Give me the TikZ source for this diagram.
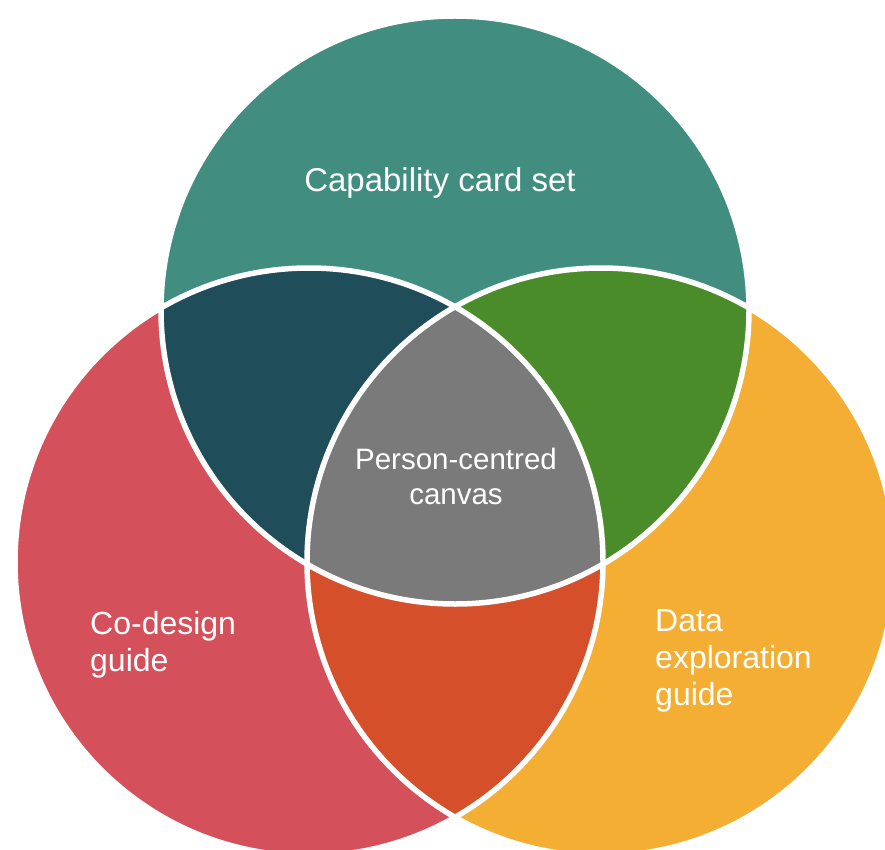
\documentclass[tikz,border=0pt]{standalone}
\usepackage{fontspec}
\setmainfont{Liberation Sans}
\definecolor{cTeal}{HTML}{418E80}
\definecolor{cDark}{HTML}{1F4D59}
\definecolor{cGreen}{HTML}{4A8C2A}
\definecolor{cGrey}{HTML}{7A7A7A}
\definecolor{cRed}{HTML}{D4505B}
\definecolor{cOrange}{HTML}{D44F2A}
\definecolor{cYellow}{HTML}{F3AE33}
\begin{document}
\begin{tikzpicture}[x=1pt,y=-1pt,
  lbl/.style={text=white, inner sep=0pt},
  rim/.style={draw=white, line width=5.5pt}]
\useasboundingbox (0,0) rectangle (885,850);
\clip (0,0) rectangle (885,850);
\def\rr{294pt}
\coordinate (A) at (455,310);
\coordinate (B) at (309,562);
\coordinate (C) at (601,562);
% single circles
\fill[cTeal] (A) circle[radius=\rr];
\fill[cRed] (B) circle[radius=\rr];
\fill[cYellow] (C) circle[radius=\rr];
% pairwise overlaps
\begin{scope}
  \clip (A) circle[radius=\rr];
  \fill[cDark] (B) circle[radius=\rr];
  \fill[cGreen] (C) circle[radius=\rr];
\end{scope}
\begin{scope}
  \clip (B) circle[radius=\rr];
  \fill[cOrange] (C) circle[radius=\rr];
  \clip (C) circle[radius=\rr];
  \fill[cGrey] (A) circle[radius=\rr];
\end{scope}
% white rims
\draw[rim] (A) circle[radius=\rr];
\draw[rim] (B) circle[radius=\rr];
\draw[rim] (C) circle[radius=\rr];
% labels
\node[lbl, anchor=base, font=\fontsize{33}{38}\selectfont] (cap) at (440,192) {Capability card set};
\node[lbl, anchor=north, align=center, font=\fontsize{29.5}{35}\selectfont] (pcc) at (456,448) {Person-centred\\canvas};
\node[lbl, anchor=north west, align=left, font=\fontsize{32}{37}\selectfont] (cod) at (90,611) {Co-design\\guide};
\node[lbl, anchor=north west, align=left, font=\fontsize{32}{37}\selectfont] (dat) at (655,609) {Data\\exploration\\guide};
\end{tikzpicture}
\end{document}
